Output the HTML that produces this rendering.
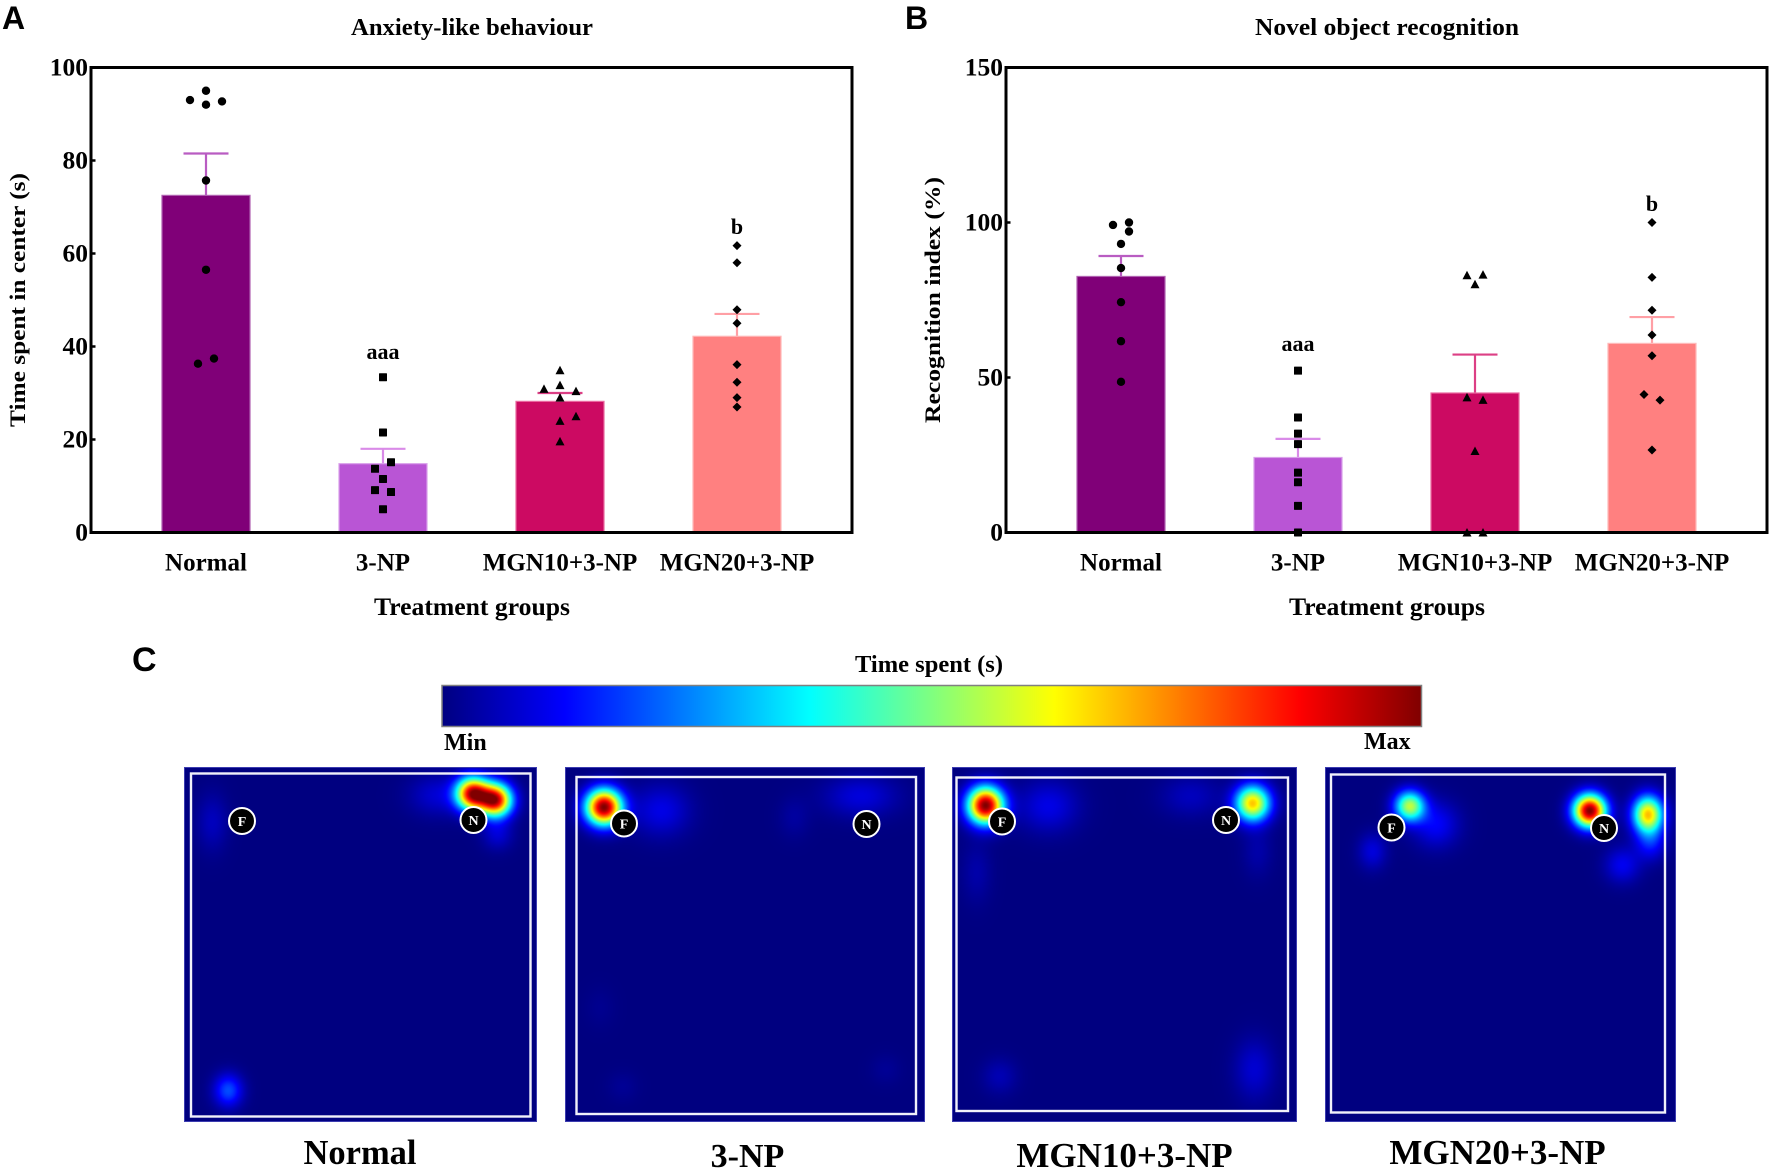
<!DOCTYPE html>
<html lang="en">
<head>
<meta charset="utf-8">
<title>Behavioural results figure</title>
<style>
html,body{margin:0;padding:0;background:#fff}
#stage{position:relative;width:1772px;height:1172px;overflow:hidden;background:#fff}
#stage canvas{position:absolute;display:block}
#stage svg{position:absolute;left:0;top:0;filter:blur(0.35px)}
text{font-family:"Liberation Serif",serif;font-weight:bold;fill:#000}
.panel-letter{font-family:"Liberation Sans",sans-serif}
</style>
</head>
<body>
<div id="stage">
<svg id="fig" width="1772" height="1172" viewBox="0 0 1772 1172" xmlns="http://www.w3.org/2000/svg">
  <defs>
    <linearGradient id="jetGradient" x1="0" x2="1" y1="0" y2="0"></linearGradient>
  </defs>
  <text class="panel-letter" x="2" y="29" font-size="32">A</text>
  <text class="panel-letter" x="905" y="29" font-size="32">B</text>
  <text class="panel-letter" x="132" y="671" font-size="34">C</text>

  <text x="472" y="35" font-size="24" text-anchor="middle" textLength="242" lengthAdjust="spacingAndGlyphs">Anxiety-like behaviour</text>
  <text x="1387" y="35" font-size="24" text-anchor="middle" textLength="264" lengthAdjust="spacingAndGlyphs">Novel object recognition</text>
  <text x="472" y="615" font-size="25" text-anchor="middle" textLength="196" lengthAdjust="spacingAndGlyphs">Treatment groups</text>
  <text x="1387" y="615" font-size="25" text-anchor="middle" textLength="196" lengthAdjust="spacingAndGlyphs">Treatment groups</text>
  <text transform="translate(25,300) rotate(-90)" font-size="22" text-anchor="middle" textLength="254" lengthAdjust="spacingAndGlyphs">Time spent in center (s)</text>
  <text transform="translate(940,300) rotate(-90)" font-size="22" text-anchor="middle" textLength="246" lengthAdjust="spacingAndGlyphs">Recognition index (%)</text>

  <text x="929" y="672" font-size="24" text-anchor="middle" textLength="148" lengthAdjust="spacingAndGlyphs">Time spent (s)</text>
  <rect x="442" y="685.5" width="979.5" height="41" fill="url(#jetGradient)" stroke="#808080" stroke-width="1.5"></rect>
  <text x="444" y="750" font-size="24">Min</text>
  <text x="1364" y="749" font-size="24">Max</text>

  <text x="360" y="1164" font-size="34.5" text-anchor="middle">Normal</text>
  <text x="747.5" y="1167" font-size="34" text-anchor="middle">3-NP</text>
  <text x="1124.5" y="1167" font-size="35" text-anchor="middle">MGN10+3-NP</text>
  <text x="1497.5" y="1164" font-size="35" text-anchor="middle">MGN20+3-NP</text>
</svg>
</div>
<script>
/* ---------- chart data ---------- */
const categories = ['Normal', '3-NP', 'MGN10+3-NP', 'MGN20+3-NP'];

const anxietyTicks = [0, 20, 40, 60, 80, 100];
const anxietyMeans = [72.5, 14.8, 28.2, 42.2];
const anxietyErrorTops = [81.5, 18, 30, 47];
const anxietyNormal = [93, 95, 92, 92.7, 75.7, 56.5, 36.3, 37.4];
const anxiety3NP = [33.4, 21.5, 15.1, 13.7, 11.5, 9.1, 8.7, 5];
const anxietyMGN10 = [34.9, 31.7, 30.9, 30.4, 29, 25, 24, 19.6];
const anxietyMGN20 = [61.7, 58, 47.9, 45, 36.1, 32.3, 29, 27];
const anxietySignificance = ['', 'aaa', '', 'b'];
const anxietySignificanceAt = [null, 38.6, null, 65.5];

const recognitionTicks = [0, 50, 100, 150];
const recognitionMeans = [82.6, 24.2, 45, 61];
const recognitionErrorTops = [89.2, 30.2, 57.4, 69.5];
const recognitionNormal = [99.2, 100, 97.1, 93.1, 85.3, 74.3, 61.7, 48.6];
const recognition3NP = [52.2, 37.1, 31.9, 28.5, 19.3, 16.2, 8.6, 0];
const recognitionMGN10 = [83, 83.2, 80.1, 43.6, 42.8, 26.3, 0, 0];
const recognitionMGN20 = [100, 82.3, 71.7, 63.7, 57, 44.5, 42.7, 26.6];
const recognitionSignificance = ['', 'aaa', '', 'b'];
const recognitionSignificanceAt = [null, 60.5, null, 105.6];

/* dodge rank of each replicate inside its group (-2..2) */
const anxietyDodge = [[-2,0,0,2,0,0,-1,1],[0,0,1,-1,0,-1,1,0],[0,0,-2,2,0,2,0,0],[0,0,0,0,0,0,0,0]];
const recognitionDodge = [[-1,1,1,0,0,0,0,0],[0,0,0,0,0,0,0,0],[-1,1,0,-1,1,0,-1,1],[0,0,0,0,0,-1,1,0]];

/* occupancy hotspots: [x %, y %, peak 0-1, spread-x %, spread-y %] of each arena */
const hotspotsNormal = [[81.6,7.4,0.92,3.2,3.2],[88.1,9.2,0.92,3.2,3.2],[71.6,7.8,0.08,5.5,4],[88.7,18.8,0.08,3,3],[7.9,15.4,0.06,3,5.5],[12.4,91,0.2,2.8,3.2]];
const hotspots3NP = [[10.7,11.2,1,3.5,3.5],[26.6,12.1,0.1,5.5,5],[82,8.1,0.09,7,4],[63.5,14,0.03,3,4],[15.9,89.9,0.02,3,3],[89,85,0.02,3,3],[9.6,67.6,0.015,3,4]];
const hotspotsMGN10 = [[9.6,10.7,1,3.6,3.6],[87,10.1,0.68,3.5,3.5],[27.8,10.9,0.1,6,5],[69,8.1,0.06,6,4],[7,29.5,0.04,3,6],[88.4,23.6,0.04,3,5],[13.7,87,0.05,3.5,3.5],[87.5,85,0.08,4,6]];
const hotspotsMGN20 = [[24,10.9,0.55,3,3],[31.5,16,0.12,4.5,4.5],[75.3,12.2,1,3.2,3.2],[91.9,13.2,0.68,3,3.6],[92.6,21,0.14,3,3.5],[13.4,23.6,0.09,2.8,3.5],[84.6,27.5,0.11,3.5,3.5]];

const jetStops = [0, 0.125, 0.375, 0.625, 0.875, 1];
const jetColors = [[0,0,128],[0,0,255],[0,255,255],[255,255,0],[255,0,0],[128,0,0]];

/* ---------- helpers ---------- */
const SVGNS = 'http://www.w3.org/2000/svg';
const fig = document.getElementById('fig');
const stage = document.getElementById('stage');
function mk(tag, attrs, parent) {
  const el = document.createElementNS(SVGNS, tag);
  for (const k in attrs) el.setAttribute(k, attrs[k]);
  (parent || fig).appendChild(el);
  return el;
}
const barColors = ['#800078', '#b955d5', '#cc0a62', '#ff8080'];
const barEdges = ['#b060b0', '#d9a0ea', '#ea6aa0', '#ffb8b8'];
const errorColors = ['#b95cc2', '#d98be8', '#dc3f85', '#ff9fa5'];
const markerKinds = ['circle', 'square', 'triangle', 'diamond'];

function drawMarker(parent, kind, x, y) {
  let m;
  if (kind === 'circle') {
    m = mk('circle', {cx: x, cy: y, r: 4.2}, parent);
  } else if (kind === 'square') {
    m = mk('rect', {x: x - 4, y: y - 4, width: 8, height: 8, rx: 0.6}, parent);
  } else if (kind === 'triangle') {
    m = mk('polygon', {points: (x - 4.5) + ',' + (y + 4) + ' ' + x + ',' + (y - 4.5) + ' ' + (x + 4.5) + ',' + (y + 4)}, parent);
  } else {
    m = mk('polygon', {points: (x - 4.5) + ',' + y + ' ' + x + ',' + (y - 4.5) + ' ' + (x + 4.5) + ',' + y + ' ' + x + ',' + (y + 4.5)}, parent);
  }
  m.setAttribute('fill', '#000');
  
  
}

function drawBarPanel(id, frame, yMax, ticks, means, errs, series, dodge, sig, sigAt) {
  const g = mk('g', {});
  
  
  const xOf = i => frame.left + 115 + i * 177;
  const yOf = v => frame.bottom - v / yMax * (frame.bottom - frame.top);
  const barW = 88;
  categories.forEach((cat, i) => {
    const cx = xOf(i);
    const err = mk('path', {d: 'M' + cx + ' ' + yOf(means[i]) + 'V' + yOf(errs[i]) + 'M' + (cx - 22.5) + ' ' + yOf(errs[i]) + 'H' + (cx + 22.5), stroke: errorColors[i], 'stroke-width': 2.2, fill: 'none'}, g);
    
    
    const bar = mk('rect', {x: cx - barW / 2, y: yOf(means[i]), width: barW, height: frame.bottom - yOf(means[i]), fill: barColors[i], stroke: barEdges[i], 'stroke-width': 1.2}, g);
    
    
    series[i].forEach((v, j) => drawMarker(g, markerKinds[i], cx + dodge[i][j] * 8, yOf(v)));
    const label = mk('text', {x: cx, y: frame.bottom + 38, 'font-size': 25, 'text-anchor': 'middle'}, g);
    label.textContent = cat;
    
    
    if (sig[i]) {
      const s = mk('text', {x: cx, y: yOf(sigAt[i]) + 6, 'font-size': 22, 'text-anchor': 'middle'}, g);
      s.textContent = sig[i];
      
      
    }
  });
  const axes = mk('rect', {x: frame.left, y: frame.top, width: frame.right - frame.left, height: frame.bottom - frame.top, fill: 'none', stroke: '#000', 'stroke-width': 3}, g);
  
  
  ticks.forEach(t => {
    const tick = mk('line', {x1: frame.left, x2: frame.left + 4.5, y1: yOf(t), y2: yOf(t), stroke: '#000', 'stroke-width': 2.5}, g);
    
    
    const lab = mk('text', {x: frame.left - 3, y: yOf(t) + 8, 'font-size': 25.5, 'text-anchor': 'end'}, g);
    lab.textContent = String(t);
    
    
  });
}

drawBarPanel('anxiety', {left: 91, right: 852, top: 67.5, bottom: 532.5}, 100, anxietyTicks,
  anxietyMeans, anxietyErrorTops, [anxietyNormal, anxiety3NP, anxietyMGN10, anxietyMGN20],
  anxietyDodge, anxietySignificance, anxietySignificanceAt);
drawBarPanel('recognition', {left: 1006, right: 1767, top: 67.5, bottom: 532.5}, 150, recognitionTicks,
  recognitionMeans, recognitionErrorTops, [recognitionNormal, recognition3NP, recognitionMGN10, recognitionMGN20],
  recognitionDodge, recognitionSignificance, recognitionSignificanceAt);

/* ---------- colour scale ---------- */
const grad = document.getElementById('jetGradient');
jetStops.forEach((s, i) => {
  const stop = mk('stop', {offset: s, 'stop-color': 'rgb(' + jetColors[i].join(',') + ')'}, grad);
});
function jet(v) {
  const t = Math.max(0, Math.min(1, v));
  let i = 0;
  while (i < jetStops.length - 2 && t > jetStops[i + 1]) i++;
  const f = (t - jetStops[i]) / (jetStops[i + 1] - jetStops[i]);
  return jetColors[i].map((c, k) => c + (jetColors[i + 1][k] - c) * f);
}

/* ---------- heatmaps ---------- */
const heatmapBoxes = [
  {id: 'normal', x: 184, y: 767, w: 353, h: 355, inner: [191, 773.5, 530.5, 1116.5], f: [242, 821], n: [473.5, 820], spots: hotspotsNormal},
  {id: '3np', x: 565, y: 767, w: 360, h: 355, inner: [576.5, 777, 916, 1114], f: [624, 823.5], n: [866.5, 824], spots: hotspots3NP},
  {id: 'mgn10', x: 952, y: 767, w: 345, h: 355, inner: [956.5, 777.5, 1288, 1111], f: [1002, 821.5], n: [1226, 820], spots: hotspotsMGN10},
  {id: 'mgn20', x: 1325, y: 767, w: 351, h: 355, inner: [1331, 774.5, 1665, 1112.5], f: [1391.5, 827.5], n: [1604, 828], spots: hotspotsMGN20}
];
heatmapBoxes.forEach(box => {
  const c = document.createElement('canvas');
  c.width = box.w;
  c.height = box.h;
  c.style.left = box.x + 'px';
  c.style.top = box.y + 'px';
  
  
  stage.insertBefore(c, fig);
  const ctx = c.getContext('2d');
  const img = ctx.createImageData(box.w, box.h);
  for (let py = 0; py < box.h; py++) {
    for (let px = 0; px < box.w; px++) {
      const ax = px / box.w * 100, ay = py / box.h * 100;
      let v = 0;
      box.spots.forEach(s => {
        const dx = (ax - s[0]) / s[3], dy = (ay - s[1]) / s[4];
        v += s[2] * Math.exp(-0.5 * (dx * dx + dy * dy));
      });
      const col = jet(v);
      const o = (py * box.w + px) * 4;
      img.data[o] = col[0];
      img.data[o + 1] = col[1];
      img.data[o + 2] = col[2];
      img.data[o + 3] = 255;
    }
  }
  ctx.putImageData(img, 0, 0);

  const g = mk('g', {});
  
  
  const edge = mk('rect', {x: box.x + 0.5, y: box.y + 0.5, width: box.w - 1, height: box.h - 1, fill: 'none', stroke: '#3c3cb0', 'stroke-width': 1}, g);
  
  
  const inner = mk('rect', {x: box.inner[0], y: box.inner[1], width: box.inner[2] - box.inner[0], height: box.inner[3] - box.inner[1], fill: 'none', stroke: '#f0f0fa', 'stroke-width': 2.4}, g);
  
  
  [['F', box.f], ['N', box.n]].forEach(item => {
    const ring = mk('circle', {cx: item[1][0], cy: item[1][1], r: 13, fill: '#000', stroke: '#fff', 'stroke-width': 2}, g);
    
    
    const t = mk('text', {x: item[1][0], y: item[1][1] + 5, 'font-size': 14, 'text-anchor': 'middle', style: 'fill:#fff'}, g);
    t.textContent = item[0];
    
    
  });
});
</script>
</body>
</html>
